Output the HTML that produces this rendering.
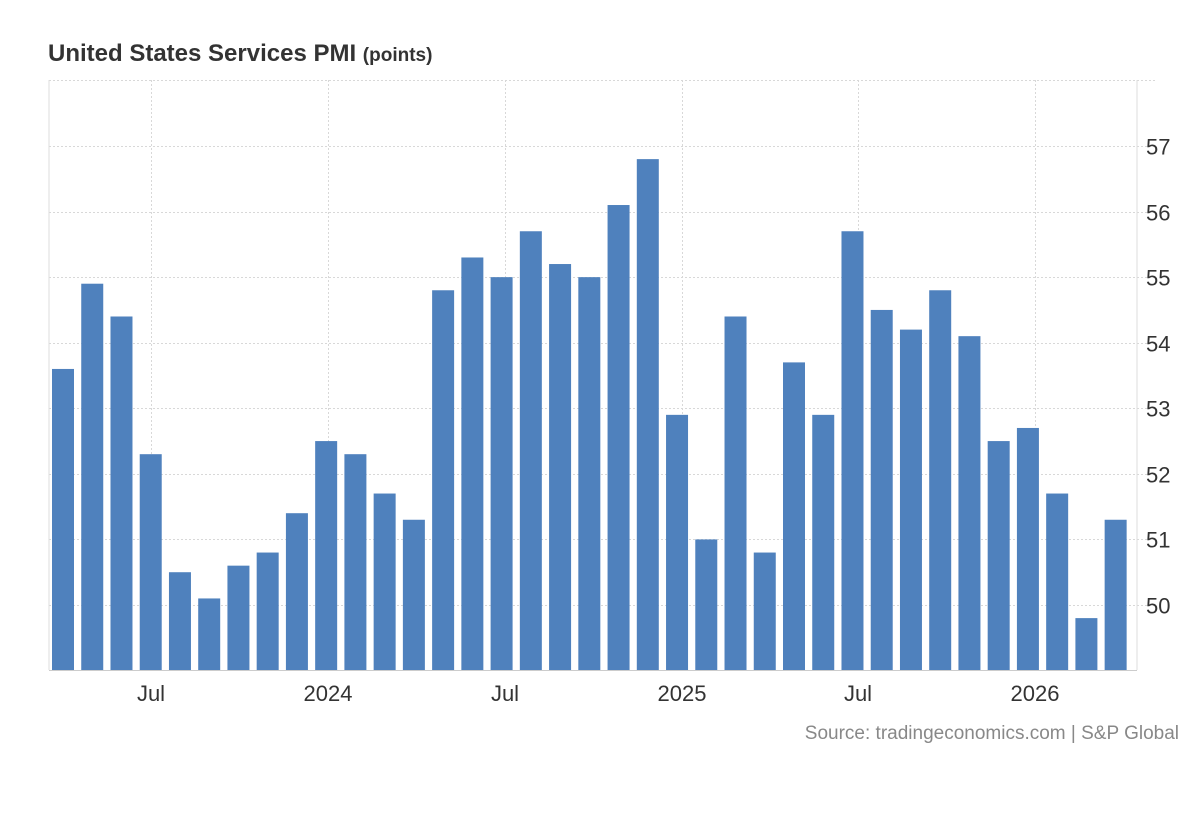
<!DOCTYPE html>
<html><head><meta charset="utf-8"><style>
body{margin:0;background:#fff;width:1200px;height:820px;overflow:hidden;font-family:"Liberation Sans",sans-serif}
</style></head><body>
<svg width="1200" height="820" xmlns="http://www.w3.org/2000/svg" font-family="Liberation Sans, sans-serif">
<text x="48" y="61" font-size="24" font-weight="bold" fill="#333">United States Services PMI <tspan font-size="19">(points)</tspan></text>
<g id="grid" stroke="#d8d8d8" stroke-dasharray="2,2" stroke-width="1"></g>
<g id="bars" fill="#4f81bd"></g>
<line x1="49" y1="80" x2="49" y2="670" stroke="#ddd"/>
<line x1="1137" y1="80" x2="1137" y2="670" stroke="#ddd"/>
<line x1="49" y1="670.5" x2="1137" y2="670.5" stroke="#ccc"/>
<g id="ylab" font-size="22" fill="#333"></g>
<g font-size="22" fill="#333" text-anchor="middle">
<text x="151" y="701">Jul</text><text x="328" y="701">2024</text><text x="505" y="701">Jul</text>
<text x="682" y="701">2025</text><text x="858" y="701">Jul</text><text x="1035" y="701">2026</text>
</g>
<text x="1179" y="739" font-size="19" fill="#888" text-anchor="end">Source: tradingeconomics.com | S&amp;P Global</text>
</svg>
<script>
const v=[53.6,54.9,54.4,52.3,50.5,50.1,50.6,50.8,51.4,52.5,52.3,51.7,51.3,54.8,55.3,55.0,55.7,55.2,55.0,56.1,56.8,52.9,51.0,54.4,50.8,53.7,52.9,55.7,54.5,54.2,54.8,54.1,52.5,52.7,51.7,49.8,51.3];
const ns="http://www.w3.org/2000/svg";
const y=val=>605-(val-50)*65.57;
const g=document.getElementById('grid'),b=document.getElementById('bars'),yl=document.getElementById('ylab');
function el(p,t,a){const e=document.createElementNS(ns,t);for(const k in a)e.setAttribute(k,a[k]);p.appendChild(e);return e;}
for(let k=50;k<=58;k++){const yy=Math.round(y(k))+0.5;el(g,'line',{x1:49,x2:1155,y1:yy,y2:yy});
if(k<58){const t=el(yl,'text',{x:1146,y:yy+8});t.textContent=k;}}
[151,328,505,682,858,1035].forEach(x=>el(g,'line',{x1:x+0.5,x2:x+0.5,y1:80,y2:670}));
v.forEach((val,i)=>{const c=63+29.24*i;const t=y(val);el(b,'rect',{x:c-11,y:t,width:22,height:670-t});});
</script>
</body></html>
